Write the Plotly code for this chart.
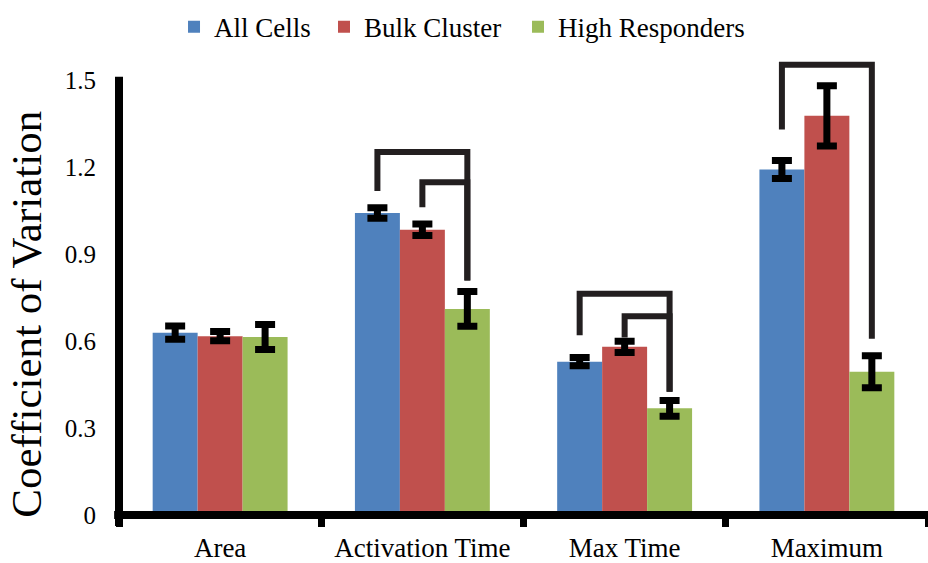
import plotly.graph_objects as go

# Coefficient of variation per measurement, by cell population
categories = ["Area", "Activation Time", "Max Time", "Maximum"]
series_names = ["All Cells", "Bulk Cluster", "High Responders"]
series_colors = ["#4f81bd", "#c0504d", "#9bbb59"]

all_cells = [0.629, 1.042, 0.529, 1.192]
bulk_cluster = [0.617, 0.984, 0.580, 1.377]
high_responders = [0.614, 0.711, 0.368, 0.494]

all_cells_err = [0.023, 0.018, 0.014, 0.031]
bulk_cluster_err = [0.016, 0.020, 0.019, 0.104]
high_responders_err = [0.043, 0.060, 0.027, 0.055]

y_ticks = [0, 0.3, 0.6, 0.9, 1.2, 1.5]
y_tick_labels = ["0", "0.3", "0.6", "0.9", "1.2", "1.5"]

# Significance brackets: (category, from series, to series, left leg end, top, right leg end)
brackets = [
    (1, 0, 2, 1.118, 1.252, 0.809),
    (1, 1, 2, 1.062, 1.148, 0.809),
    (2, 0, 2, 0.620, 0.763, 0.425),
    (2, 1, 2, 0.612, 0.686, 0.425),
    (3, 0, 2, 1.330, 1.553, 0.608),
]

BARGAP = 0.333
Y_MAX = 1.58
FONT = "Liberation Serif"

values = [all_cells, bulk_cluster, high_responders]
errors = [all_cells_err, bulk_cluster_err, high_responders_err]
x_idx = list(range(len(categories)))
legend_ids = ["legend", "legend2", "legend3"]
legend_x = [0.068, 0.2534, 0.4932]

fig = go.Figure()
for name, color, vals, errs, lg in zip(series_names, series_colors, values, errors, legend_ids):
    fig.add_trace(go.Bar(
        name=name,
        x=x_idx,
        y=vals,
        legend=lg,
        marker=dict(color=color, line=dict(width=0)),
        error_y=dict(type="data", array=errs, visible=True,
                     color="black", thickness=7, width=10),
    ))

# bar centre offset within a group
slot = (1 - BARGAP) / len(series_names)


def bar_x(cat, series):
    return cat + (series - (len(series_names) - 1) / 2) * slot


for cat, s0, s1, y_left, y_top, y_right in brackets:
    xa, xb = bar_x(cat, s0), bar_x(cat, s1)
    fig.add_trace(go.Scatter(
        x=[xa, xa, xb, xb],
        y=[y_left, y_top, y_top, y_right],
        mode="lines",
        line=dict(color="#231f20", width=6),
        showlegend=False,
        hoverinfo="skip",
    ))

PLOT_H = 460


def legend_box(x):
    return dict(
        orientation="h",
        x=x, xanchor="left",
        y=1.065, yanchor="middle",
        font=dict(family=FONT, size=27, color="black"),
        bgcolor="rgba(0,0,0,0)",
    )


fig.update_layout(
    width=928,
    height=563,
    margin=dict(l=119, r=0, t=57, b=46),
    paper_bgcolor="white",
    plot_bgcolor="white",
    barmode="group",
    bargap=BARGAP,
    bargroupgap=0,
    font=dict(family=FONT, color="black"),
    showlegend=True,
    legend=legend_box(legend_x[0]),
    legend2=legend_box(legend_x[1]),
    legend3=legend_box(legend_x[2]),
    xaxis=dict(
        range=[-0.5, len(categories) - 0.5],
        tickmode="array",
        tickvals=x_idx,
        ticktext=categories,
        ticks="",
        showgrid=False,
        zeroline=False,
        showline=False,
        tickfont=dict(family=FONT, size=27, color="black"),
        ticklabelstandoff=14,
        minor=dict(
            tickmode="array",
            tickvals=[i - 0.5 for i in range(len(categories) + 1)],
            ticks="outside",
            ticklen=11,
            tickwidth=7,
            tickcolor="black",
            showgrid=False,
        ),
    ),
    yaxis=dict(
        range=[0, Y_MAX],
        tickmode="array",
        tickvals=y_ticks,
        ticktext=y_tick_labels,
        ticks="",
        showgrid=False,
        zeroline=False,
        showline=False,
        tickfont=dict(family=FONT, size=25, color="black"),
        ticklabelstandoff=22,
    ),
    annotations=[dict(
        text="Coefficient of Variation",
        textangle=-90,
        xref="paper", yref="paper",
        x=-0.114, y=(517 - 315) / PLOT_H,
        xanchor="center", yanchor="middle",
        showarrow=False,
        font=dict(family=FONT, size=43, color="black"),
    )],
    shapes=[
        # horizontal axis line
        dict(type="line", xref="paper", yref="paper",
             x0=-0.006, x1=1, y0=0, y1=0,
             line=dict(color="black", width=8), layer="above"),
        # vertical axis line, running from below zero up to the 1.5 tick
        dict(type="line", xref="paper", yref="paper",
             x0=0, x1=0, y0=-11 / PLOT_H, y1=1.5 / Y_MAX + 3.5 / PLOT_H,
             line=dict(color="black", width=8), layer="above"),
    ],
)

fig.write_html("out.html")
